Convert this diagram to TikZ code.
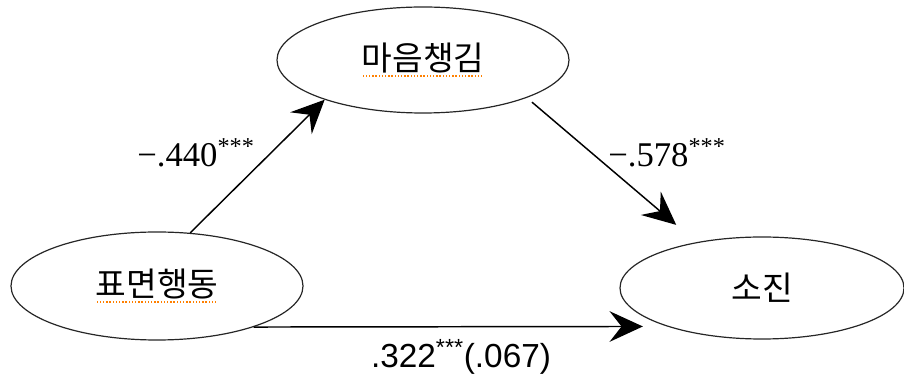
\documentclass[tikz,border=0pt]{standalone}
\usepackage{fontspec}
\setmainfont{Liberation Serif}
\newfontfamily\krfont{Noto Sans CJK KR}
\newfontfamily\numfont{Liberation Sans}
\usetikzlibrary{shapes.geometric}
\usetikzlibrary{arrows.meta}
% dotted spell-check mark under a word
\newcommand\spellmark[1]{\setbox0\hbox{#1}\rlap{\raisebox{-4.6pt}{\hbox to \wd0{\color{orange}\leaders\hbox to 2.4pt{\hss\vrule width 1.1pt height 1.1pt\hss}\hfill}}}\box0}

\begin{document}
\begin{tikzpicture}[x=0.75pt, y=-0.75pt,
  var/.style={draw=black!85, ellipse, line width=0.9pt, inner sep=0pt, font=\krfont\fontsize{25}{30}\selectfont},
  coef/.style={inner sep=0pt, font=\rmfamily\fontsize{26}{30}\selectfont},
  path/.style={->, line width=1.1pt, black},
  >={Stealth[length=25pt, width=23pt, inset=9pt]}]
			\useasboundingbox (0,0) rectangle (904,377);
			% Nodes
			\node[var, minimum width=219pt, minimum height=79.5pt] (mind) at (423,60) {\spellmark{마음챙김}};
			\node[var, minimum width=219pt, minimum height=81pt] (surface) at (157,286) {\spellmark{표면행동}};
			\node[var, minimum width=213pt, minimum height=76.5pt] (burnout) at (762,288) {소진};
			% Coefficients
			\node[coef] (a) at (196,153) {−.440\textsuperscript{***}};
			\node[coef] (b) at (667,153) {−.578\textsuperscript{***}};
			\node[coef, font=\numfont\fontsize{25}{30}\selectfont] (c) at (461,357) {.322\textsuperscript{***}(.067)};
			% Arrows
			\draw[path] (surface.58) -- (mind.202);
			\draw[path, shorten <=5pt, shorten >=20pt] (mind.340) -- (burnout.145);
			\draw[path, shorten >=18pt] (surface.337) -- (burnout.202);
		\end{tikzpicture}
\end{document}
